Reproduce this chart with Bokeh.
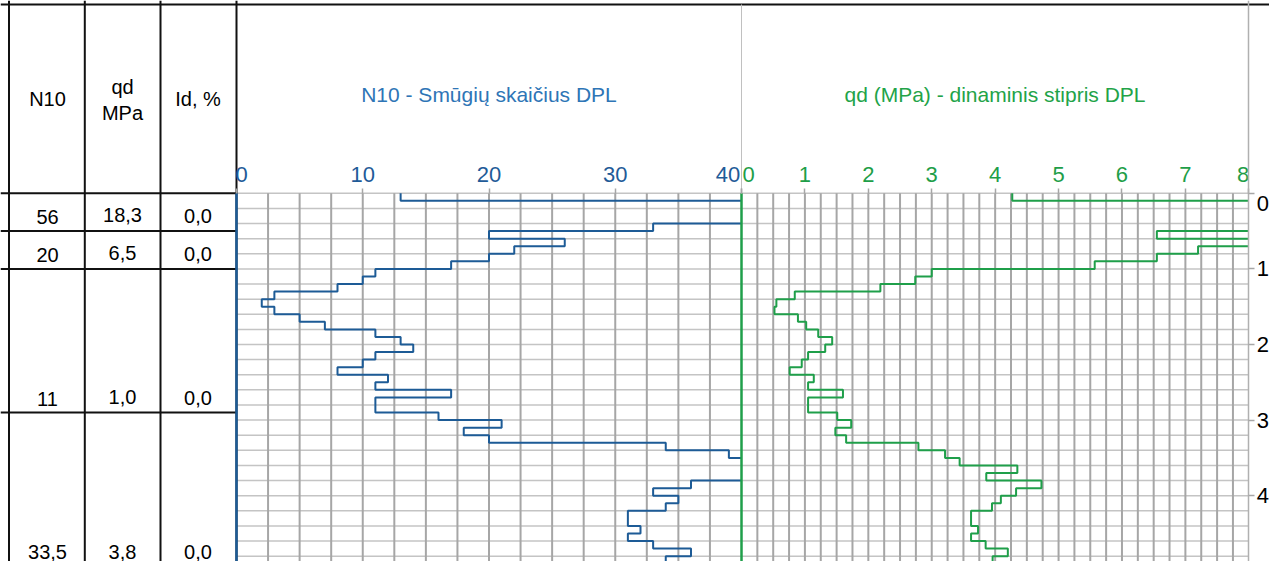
import numpy as np
from bokeh.plotting import figure
from bokeh.models import Range1d, LinearAxis, FixedTicker
from bokeh.core.properties import value
from bokeh.embed import file_html
from bokeh.resources import INLINE

# ---------------- data ----------------
depth_top = [0.0, 0.1, 0.2, 0.3, 0.4, 0.5, 0.6, 0.7, 0.8, 0.9,
             1.0, 1.1, 1.2, 1.3, 1.4, 1.5, 1.6, 1.7, 1.8, 1.9,
             2.0, 2.1, 2.2, 2.3, 2.4, 2.5, 2.6, 2.7, 2.8, 2.9,
             3.0, 3.1, 3.2, 3.3, 3.4, 3.5, 3.6, 3.7, 3.8, 3.9,
             4.0, 4.1, 4.2, 4.3, 4.4, 4.5, 4.6, 4.7, 4.8, 4.9]
step_len = 0.1
n10 = [13, 78, 78, 78, 33, 20, 26, 22, 20, 17,
       11, 10, 8, 3, 2, 3, 5, 7, 11, 13,
       14, 11, 10, 8, 12, 11, 17, 11, 11, 16,
       21, 18, 20, 34, 39, 42, 53, 47, 36, 33,
       35, 34, 31, 31, 32, 31, 33, 36, 34, 33]
qd = [4.27, 25.7, 25.7, 25.7, 10.9, 6.55, 8.6, 7.2, 6.55, 5.57,
      3.0, 2.74, 2.19, 0.84, 0.55, 0.52, 0.89, 1.02, 1.21, 1.43,
      1.32, 1.05, 0.95, 0.76, 1.14, 1.05, 1.60, 1.05, 1.05, 1.51,
      1.73, 1.48, 1.65, 2.79, 3.21, 3.44, 4.35, 3.86, 4.73, 4.33,
      4.09, 3.95, 3.62, 3.62, 3.73, 3.62, 3.85, 4.20, 3.96, 3.85]

layer_top = [0.0, 0.5, 1.0, 2.9]
layer_bottom = [0.5, 1.0, 2.9, 5.0]
layer_n10 = ["56", "20", "11", "33,5"]
layer_qd = ["18,3", "6,5", "1,0", "3,8"]
layer_id = ["0,0", "0,0", "0,0", "0,0"]

header_labels = ["N10", "qd", "MPa", "Id, %"]
n10_ticks = [0, 10, 20, 30, 40]
qd_ticks = [0, 1, 2, 3, 4, 5, 6, 7, 8]
depth_ticks = [0, 1, 2, 3, 4]
title_n10 = "N10 - Smūgių skaičius DPL"
title_qd = "qd (MPa) - dinaminis stipris DPL"

# ---------------- layout / style ----------------
W, H = 1269, 561
X_N0, X_N40 = 236.0, 741.0
X_Q0, X_Q8 = 741.0, 1248.3
Y_D0, PPM = 192.8, 75.6
N_MAX, Q_MAX = 40, 8
FONT = "Liberation Sans"
BLUE = "#1d5b96"
BLUE_AX = "#1f5b98"
BLUE_T = "#2e75b6"
GREEN = "#1f9f4a"
GREEN_AX = "#1e9e48"
GREEN_T = "#22a348"
GRID_V = "#a6a6a6"
GRID_H = "#c4c4c4"
INK = "#111111"

L, R, T, B = 0, W, 0, H
npu = (X_N40 - X_N0) / N_MAX
qpu = (X_Q8 - X_Q0) / Q_MAX
y_bottom = (B - Y_D0) / PPM

p = figure(width=W, height=H, output_backend="svg", toolbar_location=None, title=None,
           x_range=Range1d((L - X_N0) / npu, (R - X_N0) / npu),
           y_range=Range1d(y_bottom, (T - Y_D0) / PPM),
           x_axis_location=None, y_axis_location=None, min_border=0,
           outline_line_color=None, background_fill_color="white", border_fill_color="white")
p.extra_x_ranges = {"qd": Range1d((L - X_Q0) / qpu, (R - X_Q0) / qpu), "px": Range1d(L, R)}
p.extra_y_ranges = {"py": Range1d(B, T)}
p.grid.visible = False

# grid
hg = np.arange(0, 5.01, 0.2)
p.segment(x0=X_N0, x1=X_Q8, y0=hg, y1=hg, x_range_name="px", line_color=GRID_H, line_width=1.5)
vg_n = np.arange(2.5, N_MAX, 2.5)
p.segment(x0=vg_n, x1=vg_n, y0=0, y1=y_bottom + 0.1, line_color=GRID_V, line_width=2)
vg_q = np.arange(0.25, Q_MAX, 0.25)
p.segment(x0=vg_q, x1=vg_q, y0=0, y1=y_bottom + 0.1, x_range_name="qd", line_color=GRID_V, line_width=2)

# table / header frame lines
p.segment(x0=L, x1=R, y0=4, y1=4, x_range_name="px", y_range_name="py", line_color=INK, line_width=2)
tv = [8.5, 84.3, 160.0, X_N0]
p.segment(x0=tv, x1=tv, y0=T, y1=B, x_range_name="px", y_range_name="py", line_color=INK, line_width=2)
p.segment(x0=L, x1=X_N0, y0=layer_top, y1=layer_top, x_range_name="px", line_color=INK, line_width=2)
p.segment(x0=X_Q0, x1=X_Q0, y0=4, y1=Y_D0, x_range_name="px", y_range_name="py", line_color="#c0c0c0", line_width=1)

# value axes lines
p.segment(x0=0, x1=0, y0=0, y1=y_bottom + 0.1, line_color=BLUE, line_width=2.5)


def step_xy(vals, tops, vmax):
    xs, ys = [], []
    for v, t in zip(vals, tops):
        b = t + step_len
        if v <= vmax:
            xs += [v, v]
            ys += [t, b]
        else:
            xs += [vmax, np.nan, vmax]
            ys += [t, np.nan, b]
    return xs, ys


nx, ny = step_xy(n10, depth_top, N_MAX)
p.line(nx, ny, line_color=BLUE, line_width=2)
qx, qy = step_xy(qd, depth_top, Q_MAX)
p.line(qx, qy, x_range_name="qd", line_color=GREEN, line_width=2)
p.segment(x0=0, x1=0, y0=0, y1=y_bottom + 0.1, x_range_name="qd", line_color=GREEN, line_width=2.5)

# header texts (vertical centres)
hx = [47, 122, 122, 197.5]
hy = [98.8, 86.0, 112.7, 98.8]
p.text(x=hx, y=hy, text=header_labels, x_range_name="px", y_range_name="py",
       text_font=value(FONT), text_font_size="20px", text_align="center",
       text_baseline="middle", text_color="#000000")

# table body texts: centred a little above each layer's bottom line, kept inside the canvas
cx = [47, 122, 197.5]
offs = [14.0, 16.0, 15.0]
y_lim = (B - 10 - Y_D0) / PPM
for col_x, off, vals in zip(cx, offs, [layer_n10, layer_qd, layer_id]):
    ys = [min(b - off / PPM, y_lim) for b in layer_bottom]
    p.text(x=[col_x] * len(vals), y=ys, text=vals, x_range_name="px",
           text_font=value(FONT), text_font_size="20px", text_align="center",
           text_baseline="middle", text_color="#000000")


# ---------------- axes (fixed inside the frame) ----------------
def tick_axis(rng, ticks, bounds):
    ax = LinearAxis(x_range_name=rng, fixed_location=0, ticker=FixedTicker(ticks=ticks), bounds=bounds,
                    major_tick_out=5, major_tick_in=0, major_tick_line_color=GRID_V,
                    major_tick_line_width=1.5, minor_tick_line_color=None, axis_line_color=None,
                    major_label_text_color=None)
    p.add_layout(ax, "above")


def label_axis(rng, ticks, bounds, ppu, sh0, sh1, color, title, tcolor):
    pos = [float(t) for t in ticks]
    pos[0] += sh0 / ppu
    pos[-1] -= sh1 / ppu
    ov = {q: str(t) for q, t in zip(pos, ticks)}
    ax = LinearAxis(x_range_name=rng, fixed_location=0, ticker=FixedTicker(ticks=pos), bounds=bounds,
                    major_tick_out=0, major_tick_in=0, major_tick_line_color=None,
                    minor_tick_line_color=None, axis_line_color=None,
                    major_label_standoff=11, major_label_overrides=ov,
                    major_label_text_color=color, major_label_text_font=FONT,
                    major_label_text_font_size="22px",
                    axis_label=title, axis_label_standoff=59, axis_label_text_color=tcolor,
                    axis_label_text_font=FONT, axis_label_text_font_size="21px",
                    axis_label_text_font_style="normal")
    p.add_layout(ax, "above")


tick_axis("default", n10_ticks, (0, N_MAX))
tick_axis("qd", qd_ticks, (0, Q_MAX))
label_axis("default", n10_ticks, (0, N_MAX), npu, 5.0, 13.5, BLUE_AX, title_n10, BLUE_T)
label_axis("qd", qd_ticks, (0, Q_MAX), qpu, 7.2, 5.8, GREEN_AX, title_qd, GREEN_T)

dax = LinearAxis(x_range_name="qd", fixed_location=Q_MAX, ticker=FixedTicker(ticks=depth_ticks),
                 major_tick_out=6, major_tick_in=0, major_tick_line_color=GRID_V,
                 major_tick_line_width=1.5, minor_tick_line_color=None,
                 axis_line_color="#b0b0b0", axis_line_width=1.5,
                 major_label_standoff=2, major_label_overrides={0: ""},
                 major_label_text_font=FONT, major_label_text_font_size="22px",
                 major_label_text_color="#000000")
p.add_layout(dax, "right")
z = 10.2 / PPM
dax0 = LinearAxis(x_range_name="qd", fixed_location=Q_MAX, ticker=FixedTicker(ticks=[z]),
                  major_tick_out=6, major_tick_in=0, major_tick_line_color=None,
                  minor_tick_line_color=None, axis_line_color=None,
                  major_label_standoff=2, major_label_overrides={z: str(depth_ticks[0])},
                  major_label_text_font=FONT, major_label_text_font_size="22px",
                  major_label_text_color="#000000")
p.add_layout(dax0, "right")

open("out.html", "w").write(file_html(p, INLINE))
